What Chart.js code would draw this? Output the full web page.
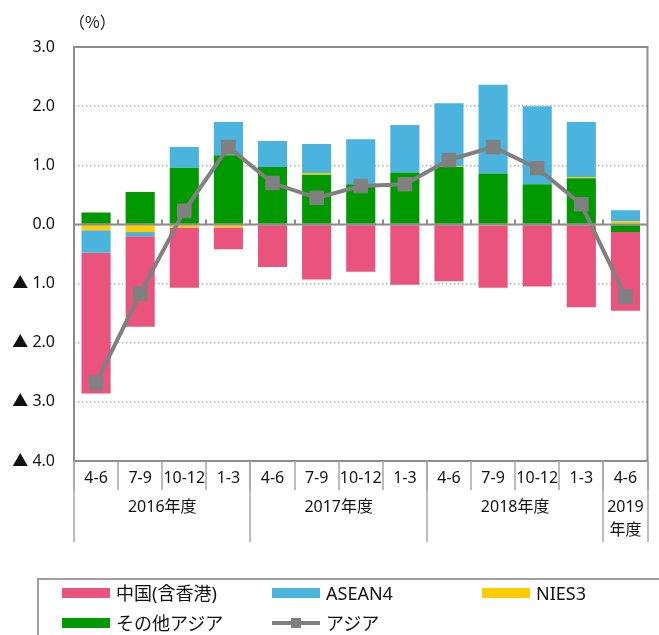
<!DOCTYPE html>
<html>
<head>
<meta charset="utf-8">
<script src="https://cdn.jsdelivr.net/npm/chart.js"></script>
<style>
  body { margin: 0; background: #fff; overflow: hidden; }
  #wrap { position: relative; width: 659px; height: 635px; }
  #legend { position: absolute; left: 37px; top: 578px; width: 640px; height: 80px;
            border-top: 2px solid #a0a0a0; border-left: 2px solid #a0a0a0; }
  .item { position: absolute; font: 18px "Noto Sans", "Noto Sans CJK JP", sans-serif; color: #111;
          height: 24px; line-height: 24px; white-space: nowrap; }
  .sw { position: absolute; left: 0; top: 7px; width: 48px; height: 10px; }
  .txt { position: absolute; left: 54px; top: 0; }
</style>
</head>
<body>
<div id="wrap">
  <canvas id="c" width="659" height="635"></canvas>
  <div id="legend"></div>
</div>
<script>
// quarters and fiscal years
var quarters = ['4-6','7-9','10-12','1-3','4-6','7-9','10-12','1-3','4-6','7-9','10-12','1-3','4-6'];
var years = ['2016年度', '2017年度', '2018年度', ['2019', '年度']];
var yearSpans = [4, 4, 4, 1];

// contributions (%pt)
var china  = [-2.38, -1.53, -1.02, -0.37, -0.72, -0.93, -0.80, -1.02, -0.96, -1.05, -1.05, -1.40, -1.33];
var asean4 = [-0.38, -0.07,  0.35,  0.56,  0.44,  0.49,  0.76,  0.80,  1.06,  1.50,  1.32,  0.93,  0.19];
var nies3  = [-0.10, -0.13, -0.05, -0.05,  0.00,  0.03,  0.00,  0.00,  0.02, -0.02,  0.00,  0.02,  0.05];
var others = [ 0.20,  0.55,  0.96,  1.17,  0.97,  0.84,  0.68,  0.88,  0.97,  0.86,  0.68,  0.78, -0.13];
var asia   = [-2.68, -1.17,  0.23,  1.31,  0.70,  0.45,  0.65,  0.68,  1.09,  1.31,  0.95,  0.34, -1.22];

var yTicks = [3, 2, 1, 0, -1, -2, -3, -4];

var FONT = '"Noto Sans", "Noto Sans CJK JP", sans-serif';
Chart.defaults.font.family = FONT;
Chart.defaults.font.size = 16;
Chart.defaults.color = '#111';

var frameColor = '#8c8c8c';
var sepColor = '#a6a6a6';

function line(ctx, x1, y1, x2, y2){
	ctx.beginPath();
	ctx.moveTo(x1, y1);
	ctx.lineTo(x2, y2);
	ctx.stroke();
}

// frame, zero line and the two-row category axis
var axisDeco = {
	id: 'axisDeco',
	afterDatasetsDraw: function(chart){
		var ctx = chart.ctx, a = chart.chartArea, y = chart.scales.y;
		var w = (a.right - a.left) / quarters.length;
		var y0 = y.getPixelForValue(0);
		ctx.save();
		ctx.strokeStyle = frameColor;
		ctx.lineWidth = 2;
		ctx.strokeRect(a.left, a.top, a.right - a.left, a.bottom - a.top);
		line(ctx, a.left, y0, a.right, y0);
		for (var k = 1; k < quarters.length; k++) {
			var xx = Math.round(a.left + w * k);
			line(ctx, xx, y0 - 5, xx, y0);
		}
		// quarter separators
		ctx.strokeStyle = sepColor;
		ctx.lineWidth = 1.5;
		for (var k = 0; k <= quarters.length; k++) {
			var xx = Math.round(a.left + w * k);
			line(ctx, xx, a.bottom, xx, a.bottom + 29);
		}
		// year groups
		ctx.fillStyle = '#111';
		ctx.font = '16px ' + FONT;
		ctx.textAlign = 'center';
		ctx.textBaseline = 'middle';
		var pos = 0;
		for (var i = 0; i < years.length; i++) {
			var xs = Math.round(a.left + w * pos);
			line(ctx, xs, a.bottom, xs, a.bottom + 81);
			var cx = a.left + w * (pos + yearSpans[i] / 2);
			var lines = [].concat(years[i]);
			for (var j = 0; j < lines.length; j++) {
				ctx.fillText(lines[j], cx, a.bottom + 46 + j * 23);
			}
			pos += yearSpans[i];
		}
		var xe = Math.round(a.left + w * pos);
		line(ctx, xe, a.bottom, xe, a.bottom + 81);
		// unit
		ctx.textAlign = 'left';
		ctx.font = '16px "Noto Sans CJK JP", sans-serif';
		ctx.fillText('（%）', 69, 22);
		ctx.restore();
	}
};

var ctx = document.getElementById('c').getContext('2d');
var chart = new Chart(ctx, {
	data: {
		labels: quarters,
		datasets: [
			{ type: 'bar', label: 'その他アジア', data: others, backgroundColor: '#009a00' },
			{ type: 'bar', label: 'NIES3', data: nies3, backgroundColor: '#ffcc00' },
			{ type: 'bar', label: 'ASEAN4', data: asean4, backgroundColor: '#4ab4de' },
			{ type: 'bar', label: '中国(含香港)', data: china, backgroundColor: '#e9537d' },
			{ type: 'line', label: 'アジア', data: asia, stack: 'line', order: -1,
			  borderColor: '#808080', backgroundColor: '#808080', borderWidth: 4,
			  pointStyle: 'rect', pointRadius: 7.5, pointHoverRadius: 7.5, tension: 0 }
		]
	},
	options: {
		responsive: false,
		animation: false,
		layout: { padding: { top: 47, right: 10, bottom: 0, left: 0 } },
		datasets: { bar: { barPercentage: 0.66, categoryPercentage: 1 } },
		plugins: { legend: { display: false }, tooltip: { enabled: false } },
		scales: {
			x: {
				stacked: true,
				grid: { display: false, drawTicks: false },
				border: { display: false },
				ticks: { padding: 8, autoSkip: false, maxRotation: 0, font: { size: 16 } },
				afterFit: function(s){ s.height = 174; }
			},
			y: {
				stacked: true,
				min: -4, max: 3,
				afterBuildTicks: function(s){ s.ticks = yTicks.map(function(v){ return { value: v }; }); },
				grid: { color: '#b4b4b4', lineWidth: 1.5, drawTicks: false },
				border: { display: false, dash: [1.5, 2.5] },
				ticks: {
					padding: 19,
					callback: function(v){ return v < 0 ? '▲ ' + Math.abs(v).toFixed(1) : v.toFixed(1); }
				},
				afterFit: function(s){ s.width = 74; }
			}
		}
	},
	plugins: [axisDeco]
});

// legend (same order as the original)
var legendOrder = [3, 2, 1, 0, 4];
var legend = document.getElementById('legend');
legendOrder.forEach(function(di, n){
	var ds = chart.data.datasets[di];
	var item = document.createElement('div');
	item.className = 'item';
	item.style.left = (62 - 39 + (n % 3) * 210) + 'px';
	item.style.top = (593 - 580 - 12 + Math.floor(n / 3) * 30) + 'px';
	var sw = document.createElement('div');
	sw.className = 'sw';
	if (ds.type === 'line') {
		sw.style.background = 'transparent';
		sw.innerHTML = '<div style="position:absolute;left:0;top:3px;width:48px;height:4px;background:' + ds.borderColor + '"></div>' +
			'<div style="position:absolute;left:19px;top:0;width:10px;height:10px;background:' + ds.borderColor + '"></div>';
	} else {
		sw.style.background = ds.backgroundColor;
	}
	var t = document.createElement('span');
	t.className = 'txt';
	t.textContent = ds.label;
	item.appendChild(sw);
	item.appendChild(t);
	legend.appendChild(item);
});
</script>
</body>
</html>
